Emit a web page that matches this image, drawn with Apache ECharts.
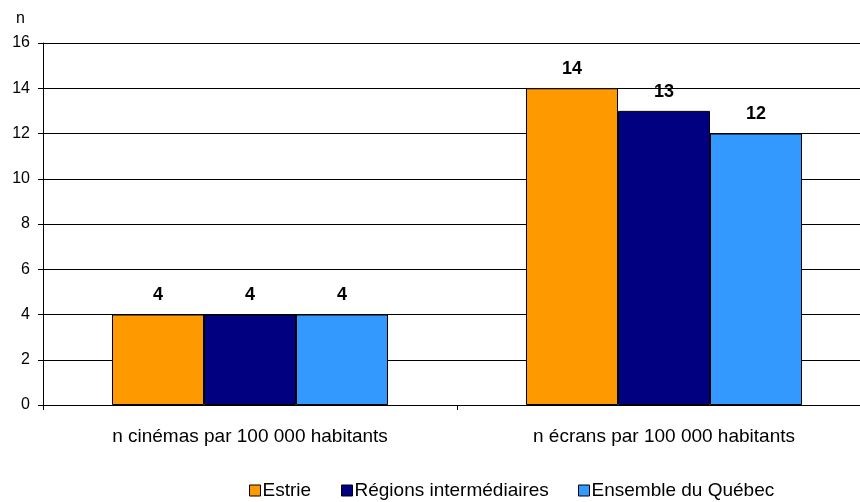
<!DOCTYPE html>
<html>
<head>
<meta charset="utf-8">
<script src="https://cdn.jsdelivr.net/npm/echarts@6/dist/echarts.min.js"></script>
<style>
  html, body { margin: 0; padding: 0; background: #fff; }
  #chart { width: 860px; height: 502px; }
</style>
</head>
<body>
<div id="chart"></div>
<script>
const categories = ['n cinémas par 100 000 habitants', 'n écrans par 100 000 habitants'];
const seriesNames = ['Estrie', 'Régions intermédiaires', 'Ensemble du Québec'];
const estrie = [4, 14];
const regions = [4, 13];
const quebec = [4, 12];
const colors = ['#FF9900', '#000080', '#3399FF'];

const font = 'Arial, "Liberation Sans", sans-serif';
const legendLeft = [249, 341, 578];

function makeSeries(name, data, idx) {
  return {
    name: name,
    type: 'bar',
    data: data,
    barWidth: 92,
    barGap: '0%',
    itemStyle: { color: colors[idx], borderColor: '#000', borderWidth: 1 },
    label: {
      show: true,
      position: 'top',
      distance: 10,
      color: '#000',
      fontWeight: 'bold',
      fontSize: 18,
      fontFamily: font
    }
  };
}

function makeLegend(name, i) {
  return {
    bottom: 2,
    left: legendLeft[i],
    padding: 0,
    itemWidth: 11,
    itemHeight: 11,
    icon: 'rect',
    itemStyle: { borderColor: '#000', borderWidth: 1 },
    textStyle: { fontSize: 19, color: '#000', fontFamily: font, padding: [0, 0, 0, -3] },
    data: [name]
  };
}

const chart = echarts.init(document.getElementById('chart'));
chart.setOption({
  animation: false,
  color: colors,
  grid: { left: 43, top: 43, width: 828, height: 362, outerBoundsMode: 'none' },
  legend: seriesNames.map(makeLegend),
  xAxis: {
    type: 'category',
    data: categories,
    axisLine: { lineStyle: { color: '#000' } },
    axisTick: { show: true, length: 5, lineStyle: { color: '#000' } },
    axisLabel: { color: '#000', fontSize: 19, fontFamily: font, margin: 22 }
  },
  yAxis: {
    type: 'value',
    min: 0,
    max: 16,
    interval: 2,
    name: 'n',
    nameLocation: 'end',
    nameGap: 16,
    nameTextStyle: { color: '#000', fontSize: 16, fontFamily: font, align: 'right', padding: [0, 18, 0, 0] },
    axisLine: { show: true, lineStyle: { color: '#000' } },
    axisTick: { show: true, length: 5, lineStyle: { color: '#000' } },
    axisLabel: { color: '#000', fontSize: 16, fontFamily: font, margin: 13 },
    splitLine: { lineStyle: { color: '#000', width: 1 } }
  },
  series: [
    makeSeries(seriesNames[0], estrie, 0),
    makeSeries(seriesNames[1], regions, 1),
    makeSeries(seriesNames[2], quebec, 2)
  ]
});
</script>
</body>
</html>
